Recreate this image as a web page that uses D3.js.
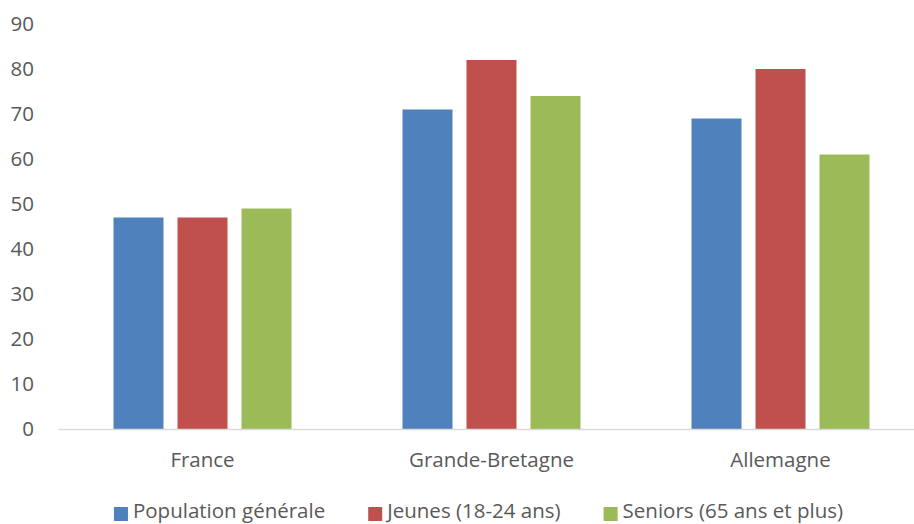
<!DOCTYPE html>
<html>
<head>
<meta charset="utf-8">
<script src="https://cdn.jsdelivr.net/npm/d3@7"></script>
<style>
  html, body { margin: 0; padding: 0; background: #fff; }
  svg { display: block; font-family: "Open Sans", "Noto Sans", sans-serif; }
</style>
</head>
<body>
<svg id="chart" width="914" height="524"></svg>
<script>
// Countries and series
const categories = ["France", "Grande-Bretagne", "Allemagne"];
const seriesNames = ["Population générale", "Jeunes (18-24 ans)", "Seniors (65 ans et plus)"];
const populationGenerale = [47, 71, 69];
const jeunes = [47, 82, 80];
const seniors = [49, 74, 61];
const yTicks = [0, 10, 20, 30, 40, 50, 60, 70, 80, 90];
const colors = ["#4f81bd", "#c0504d", "#9bbb59"];

const seriesValues = [populationGenerale, jeunes, seniors];

const svg = d3.select("#chart");
const textColor = "#595959";
const fontSize = 20.5;

const y = d3.scaleLinear().domain([0, 90]).range([429, 24]);
const x0 = d3.scaleBand().domain(categories).range([58, 925]).padding(0);
const clusterOffset = (x0.bandwidth() - 178) / 2;
const x1 = d3.scaleBand().domain(seriesNames)
  .range([clusterOffset, clusterOffset + 178])
  .paddingInner(14 / 64).paddingOuter(0);

// Y axis labels (no axis line)
const yAxis = svg.append("g").attr("transform", "translate(34,0)")
  .call(d3.axisLeft(y).tickValues(yTicks).tickSize(0).tickPadding(0));
yAxis.select(".domain").remove();
yAxis.selectAll("text")
  .attr("fill", textColor)
  .style("font-size", fontSize + "px")
  .style("font-family", "'Open Sans', sans-serif");

// Bars
const groups = svg.append("g").selectAll("g")
  .data(categories)
  .join("g")
  .attr("transform", d => `translate(${x0(d)},0)`);

groups.selectAll("rect")
  .data((c, i) => seriesNames.map((s, j) => ({ s, v: seriesValues[j][i], j })))
  .join("rect")
  .attr("x", d => x1(d.s))
  .attr("width", x1.bandwidth())
  .attr("y", d => y(d.v))
  .attr("height", d => y(0) - y(d.v))
  .attr("fill", d => colors[d.j]);

// Category axis
const xAxis = svg.append("g").attr("transform", `translate(0,${y(0)})`)
  .call(d3.axisBottom(x0).tickSize(0).tickPadding(23));
xAxis.select(".domain").attr("stroke", "#d9d9d9").attr("stroke-width", 1.3);
xAxis.selectAll("text")
  .attr("fill", textColor)
  .style("font-size", fontSize + "px")
  .style("font-family", "'Open Sans', sans-serif");

// Legend, centred below the plot
const swatch = 14, textOffset = 19, gap = 43;
const legend = svg.append("g");
const items = legend.selectAll("g").data(seriesNames).join("g");
items.append("rect")
  .attr("width", swatch).attr("height", swatch)
  .attr("y", -11)
  .attr("fill", (d, i) => colors[i]);
items.append("text")
  .attr("x", textOffset)
  .attr("fill", textColor)
  .style("font-size", fontSize + "px")
  .text(d => d);

const widths = [];
items.each(function () {
  widths.push(textOffset + this.querySelector("text").getComputedTextLength());
});
const total = d3.sum(widths) + gap * (widths.length - 1);
let cursor = 478.5 - total / 2;
items.attr("transform", (d, i) => {
  const t = `translate(${cursor},518)`;
  cursor += widths[i] + gap;
  return t;
});
</script>
</body>
</html>
